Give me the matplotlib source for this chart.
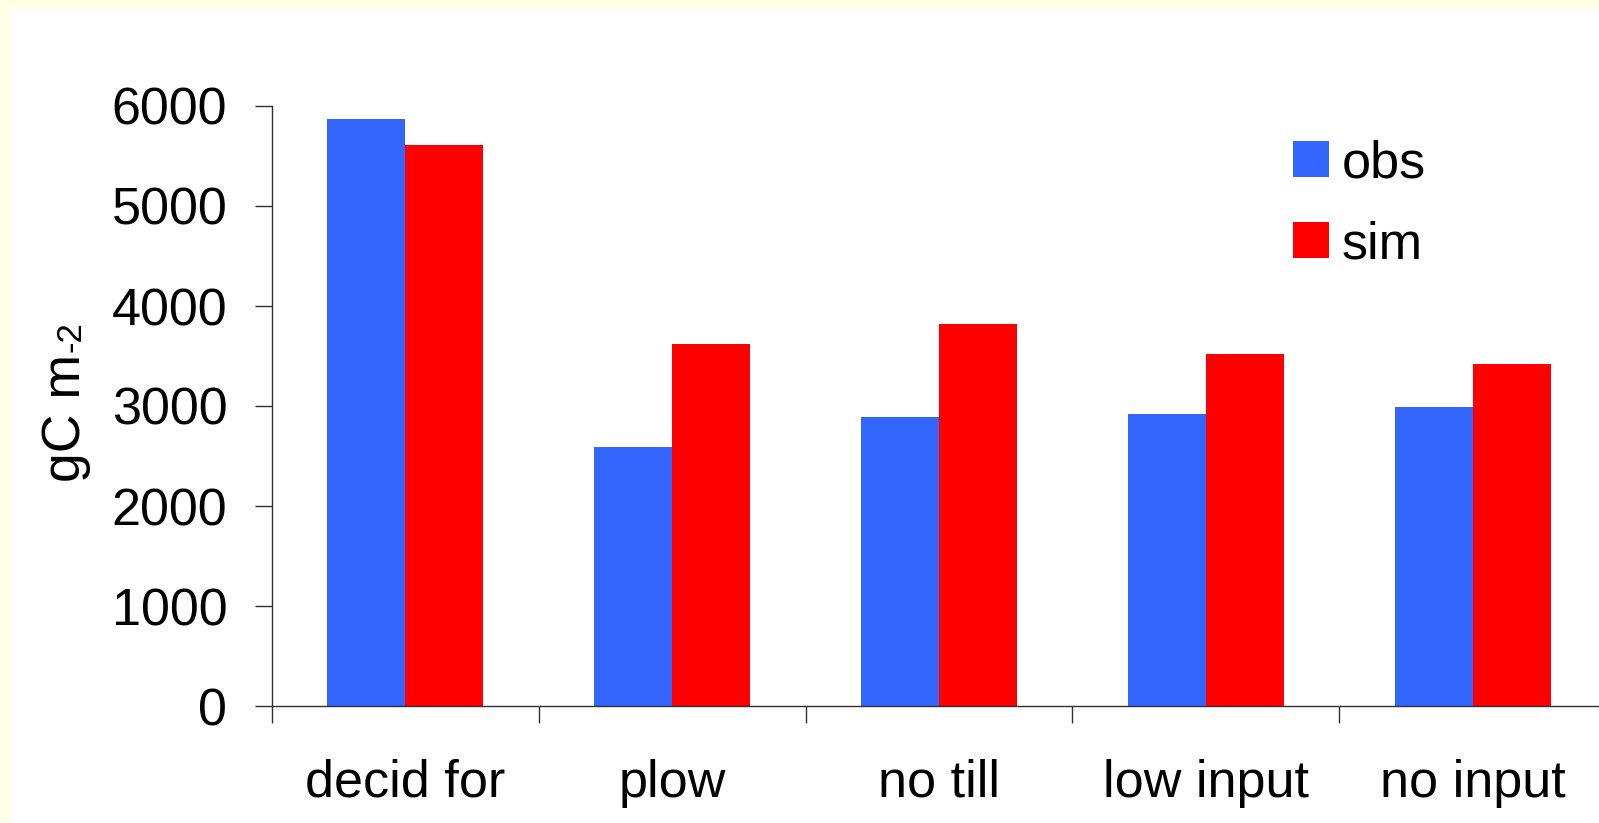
import matplotlib
matplotlib.use("Agg")
import matplotlib.pyplot as plt
from matplotlib.patches import Rectangle
from matplotlib.transforms import IdentityTransform
import numpy as np

categories = ["decid for", "plow", "no till", "low input", "no input"]
obs = [5870, 2590, 2890, 2920, 2990]
sim = [5610, 3620, 3820, 3520, 3420]
yticks = [0, 1000, 2000, 3000, 4000, 5000, 6000]

plt.rcParams["font.family"] = ["Liberation Sans", "DejaVu Sans"]

W, H, DPI = 1599, 823, 100
fig = plt.figure(figsize=(W / DPI, H / DPI), dpi=DPI, facecolor="#FFFFE6")

# white slide panel inset from the cream border
fig.patches.append(Rectangle((10 / W, 0), 1, 1 - 9 / H, transform=fig.transFigure,
                             facecolor="white", edgecolor="none", zorder=-5))

left, bottom = 272 / W, (H - 706) / H
ax = fig.add_axes([left, bottom, (1606 - 272) / W, 600 / H])
ax.set_zorder(2)
ax.set_facecolor("none")

x = np.arange(len(categories))
bw = 0.292
ax.bar(x - bw / 2, obs, width=bw, color="#3366FF", label="obs", zorder=2)
ax.bar(x + bw / 2, sim, width=bw, color="#FF0000", label="sim", zorder=2)

ax.set_xlim(-0.5, len(categories) - 0.5)
ax.set_ylim(0, 6000)

for s in ["top", "right"]:
    ax.spines[s].set_visible(False)
for s in ["left", "bottom"]:
    ax.spines[s].set_color("#303030")
    ax.spines[s].set_linewidth(1.0)

fs = 37.5
ax.set_yticks(yticks)
ax.set_yticklabels([str(v) for v in yticks], fontsize=fs)
ax.tick_params(axis="y", direction="out", length=12.2, width=1.0, pad=20, color="#303030")

# boundaries carry tick marks, centres carry labels
ax.set_xticks(np.arange(len(categories) + 1) - 0.5)
ax.set_xticklabels([])
ax.set_xticks(x, minor=True)
ax.set_xticklabels(categories, minor=True, fontsize=fs)
ax.tick_params(axis="x", which="major", direction="out", length=12.2, width=1.0, color="#303030")
ax.tick_params(axis="x", which="minor", length=0, pad=38)

leg = ax.legend(loc="upper left", bbox_to_anchor=(1293, H - 139), bbox_transform=IdentityTransform(),
                frameon=False, fontsize=fs, handlelength=0.7, handleheight=0.7,
                handletextpad=0.23, labelspacing=0.62, borderpad=0, borderaxespad=0)

# y-axis label: "gC m" followed by a small "-2"
t1 = fig.text(80, H - 482, "gC m", rotation=90, rotation_mode="anchor", ha="left",
              va="baseline", fontsize=38.5, transform=IdentityTransform(), zorder=3)
fig.canvas.draw()
bb = t1.get_window_extent()
fig.text(80, bb.y1 + 2, "-2", rotation=90, rotation_mode="anchor", ha="left",
         va="baseline", fontsize=25, transform=IdentityTransform(), zorder=3)

fig.savefig("out.png", dpi=DPI, facecolor=fig.get_facecolor())
